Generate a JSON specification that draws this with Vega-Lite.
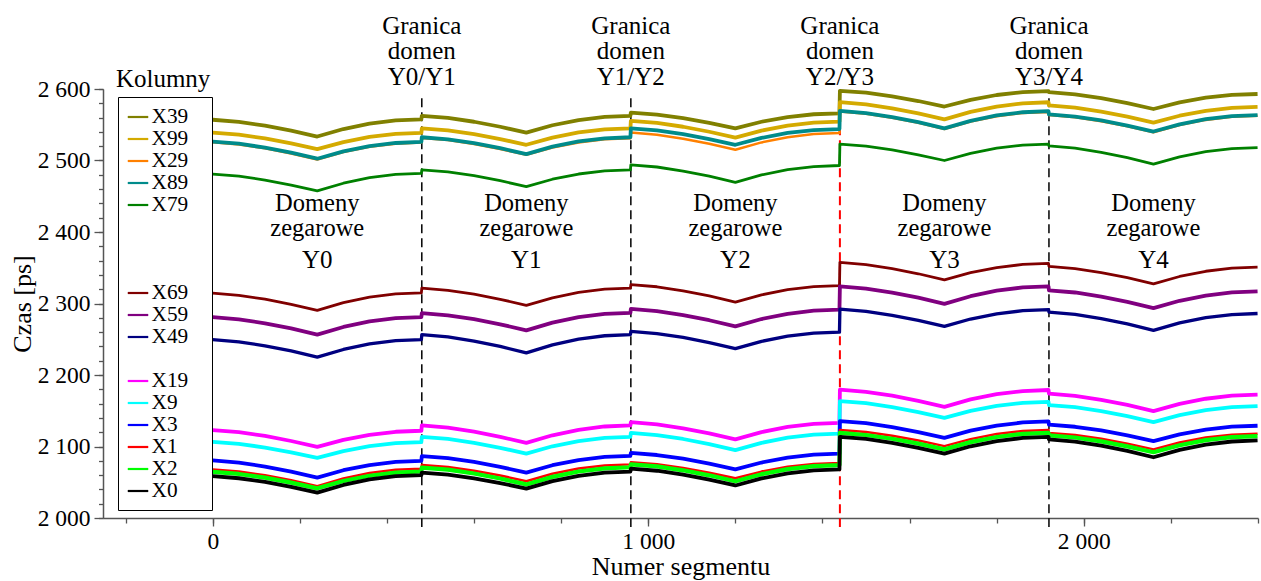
{
  "$schema": "https://vega.github.io/schema/vega-lite/v6.json",
  "width": 1155,
  "height": 429,
  "autosize": {"type": "none"},
  "padding": {"left": 103, "top": 89, "right": 3, "bottom": 63},
  "background": "white",
  "config": {
    "font": "Liberation Serif",
    "view": {"stroke": null},
    "axis": {
      "labelFont": "Liberation Serif", "labelFontSize": 23.5, "labelColor": "black",
      "titleFont": "Liberation Serif", "titleFontSize": 26, "titleFontWeight": "normal", "titleColor": "black",
      "domainColor": "#555555", "domainWidth": 1.5, "tickColor": "#555555", "tickWidth": 1.3,
      "grid": false, "labelFlush": false, "labelOverlap": false
    },
    "legend": {
      "strokeColor": "black", "fillColor": "white",
      "symbolType": "stroke", "symbolSize": 420, "symbolStrokeWidth": 2.2,
      "labelFont": "Liberation Serif", "labelFontSize": 21.3, "labelColor": "black", "labelOffset": 2,
      "rowPadding": 0, "padding": 8.5, "labelLimit": 300, "symbolOffset": 0
    },
    "text": {"font": "Liberation Serif", "color": "black"}
  },
  "resolve": {"axis": {"x": "independent", "y": "independent"}},
  "datasets": {
    "curves": [
      {"seg":0,"X39":2557,"X99":2539,"X29":2525.5,"X89":2526.5,"X79":2481,"X69":2314.5,"X59":2281,"X49":2249.5,"X19":2123,"X9":2106.5,"X3":2080.5,"X1":2068,"X2":2064.5,"X0":2058.5},
      {"seg":60,"X39":2554.1,"X99":2536.1,"X29":2522.5,"X89":2523.5,"X79":2478.1,"X69":2311.5,"X59":2277.9,"X49":2246.4,"X19":2120.1,"X9":2103.7,"X3":2077.5,"X1":2065.1,"X2":2061.6,"X0":2055.6},
      {"seg":120,"X39":2548.7,"X99":2530.9,"X29":2517,"X89":2518,"X79":2472.7,"X69":2306,"X59":2272.3,"X49":2240.8,"X19":2114.7,"X9":2098.5,"X3":2072,"X1":2059.7,"X2":2056.4,"X0":2050.4},
      {"seg":180,"X39":2541.7,"X99":2524,"X29":2509.9,"X89":2510.9,"X79":2465.7,"X69":2298.9,"X59":2265.1,"X49":2233.6,"X19":2107.7,"X9":2091.9,"X3":2064.9,"X1":2052.7,"X2":2049.5,"X0":2043.5},
      {"seg":240,"X39":2533.5,"X99":2516,"X29":2501.5,"X89":2502.5,"X79":2457.5,"X69":2290.5,"X59":2256.5,"X49":2225,"X19":2099.5,"X9":2084,"X3":2056.5,"X1":2044.5,"X2":2041.5,"X0":2035.5},
      {"seg":300,"X39":2544,"X99":2525.8,"X29":2511.8,"X89":2512.8,"X79":2468.2,"X69":2301.2,"X59":2267.2,"X49":2235.7,"X19":2109.3,"X9":2093.6,"X3":2066.8,"X1":2055.2,"X2":2051.8,"X0":2046.2},
      {"seg":360,"X39":2551.5,"X99":2532.9,"X29":2519.1,"X89":2520.1,"X79":2475.9,"X69":2308.9,"X59":2274.9,"X49":2243.4,"X19":2116.4,"X9":2100.5,"X3":2074.1,"X1":2062.9,"X2":2059.1,"X0":2053.9},
      {"seg":420,"X39":2556,"X99":2537.1,"X29":2523.5,"X89":2524.5,"X79":2480.5,"X69":2313.5,"X59":2279.5,"X49":2248,"X19":2120.6,"X9":2104.6,"X3":2078.5,"X1":2067.5,"X2":2063.5,"X0":2058.5},
      {"seg":479,"X39":2557.5,"X99":2538.5,"X29":2525,"X89":2526,"X79":2482,"X69":2315,"X59":2281,"X49":2249.5,"X19":2122,"X9":2106,"X3":2080,"X1":2069,"X2":2065,"X0":2060},
      {"seg":480,"X39":2562.5,"X99":2545,"X29":2531.5,"X89":2532.5,"X79":2487,"X69":2321.5,"X59":2286.5,"X49":2256.5,"X19":2129.5,"X9":2113.5,"X3":2086.5,"X1":2074,"X2":2070.5,"X0":2063.5},
      {"seg":540,"X39":2559.6,"X99":2542.1,"X29":2528.6,"X89":2529.6,"X79":2484.1,"X69":2318.5,"X59":2283.5,"X49":2253.3,"X19":2126.4,"X9":2110.6,"X3":2083.6,"X1":2071.2,"X2":2067.6,"X0":2060.7},
      {"seg":600,"X39":2554.2,"X99":2536.9,"X29":2523.2,"X89":2524.2,"X79":2478.7,"X69":2313,"X59":2278,"X49":2247.5,"X19":2120.8,"X9":2105.2,"X3":2078.4,"X1":2066,"X2":2062.2,"X0":2055.5},
      {"seg":660,"X39":2547.2,"X99":2530,"X29":2516.2,"X89":2517.2,"X79":2471.7,"X69":2305.9,"X59":2270.9,"X49":2239.9,"X19":2113.6,"X9":2098.2,"X3":2071.5,"X1":2059.4,"X2":2055.2,"X0":2048.9},
      {"seg":720,"X39":2539,"X99":2522,"X29":2508,"X89":2509,"X79":2463.5,"X69":2297.5,"X59":2262.5,"X49":2231,"X19":2105,"X9":2090,"X3":2063.5,"X1":2051.5,"X2":2047,"X0":2041},
      {"seg":780,"X39":2549.3,"X99":2532.1,"X29":2518.1,"X89":2519.3,"X79":2473.8,"X69":2308,"X59":2273.2,"X49":2242.2,"X19":2115.7,"X9":2100.3,"X3":2073.8,"X1":2061.8,"X2":2057.5,"X0":2051.5},
      {"seg":840,"X39":2556.6,"X99":2539.3,"X29":2525.3,"X89":2526.6,"X79":2481.1,"X69":2315.5,"X59":2280.9,"X49":2250.1,"X19":2123.4,"X9":2107.6,"X3":2081.1,"X1":2069.1,"X2":2065,"X0":2059},
      {"seg":900,"X39":2561,"X99":2543.6,"X29":2529.6,"X89":2531,"X79":2485.5,"X69":2320,"X59":2285.5,"X49":2254.9,"X19":2128,"X9":2112,"X3":2085.5,"X1":2073.5,"X2":2069.5,"X0":2063.5},
      {"seg":959,"X39":2562.5,"X99":2545,"X29":2531,"X89":2532.5,"X79":2487,"X69":2321.5,"X59":2287,"X49":2256.5,"X19":2129.5,"X9":2113.5,"X3":2087,"X1":2075,"X2":2071,"X0":2065},
      {"seg":960,"X39":2567,"X99":2555.5,"X29":2539,"X89":2545,"X79":2494,"X69":2326.5,"X59":2292.5,"X49":2261,"X19":2134,"X9":2119,"X3":2091,"X1":2078,"X2":2075,"X0":2069},
      {"seg":1020,"X39":2564.3,"X99":2552.6,"X29":2536,"X89":2542.1,"X79":2490.9,"X69":2323.4,"X59":2289.4,"X49":2258,"X19":2131,"X9":2116,"X3":2088.1,"X1":2075.2,"X2":2072.1,"X0":2066.1},
      {"seg":1080,"X39":2559.2,"X99":2547.2,"X29":2530.5,"X89":2536.9,"X79":2485.3,"X69":2317.8,"X59":2283.8,"X49":2252.5,"X19":2125.5,"X9":2110.5,"X3":2082.9,"X1":2070,"X2":2066.7,"X0":2060.7},
      {"seg":1140,"X39":2552.7,"X99":2540.2,"X29":2523.4,"X89":2530,"X79":2478.1,"X69":2310.6,"X59":2276.6,"X49":2245.4,"X19":2118.4,"X9":2103.4,"X3":2076,"X1":2063.4,"X2":2059.7,"X0":2053.7},
      {"seg":1200,"X39":2545,"X99":2532,"X29":2515,"X89":2522,"X79":2469.5,"X69":2302,"X59":2268,"X49":2237,"X19":2110,"X9":2095,"X3":2068,"X1":2055.5,"X2":2051.5,"X0":2045.5},
      {"seg":1260,"X39":2554.2,"X99":2541.8,"X29":2525.3,"X89":2531.6,"X79":2479.8,"X69":2312.1,"X59":2278.3,"X49":2247.1,"X19":2120.1,"X9":2105.1,"X3":2077.6,"X1":2064.9,"X2":2061.3,"X0":2055.3},
      {"seg":1320,"X39":2560.8,"X99":2548.9,"X29":2532.6,"X89":2538.5,"X79":2487.1,"X69":2319.3,"X59":2285.6,"X49":2254.3,"X19":2127.3,"X9":2112.3,"X3":2084.5,"X1":2071.6,"X2":2068.4,"X0":2062.4},
      {"seg":1380,"X39":2564.7,"X99":2553.1,"X29":2537,"X89":2542.6,"X79":2491.5,"X69":2323.6,"X59":2290,"X49":2258.6,"X19":2131.6,"X9":2116.6,"X3":2088.6,"X1":2075.7,"X2":2072.6,"X0":2066.6},
      {"seg":1439,"X39":2566,"X99":2554.5,"X29":2538.5,"X89":2544,"X79":2493,"X69":2325,"X59":2291.5,"X49":2260,"X19":2133,"X9":2118,"X3":2090,"X1":2077,"X2":2074,"X0":2068},
      {"seg":1440,"X39":2597.5,"X99":2581.5,"X29":2568.5,"X89":2569.5,"X79":2523,"X69":2357.5,"X59":2324,"X49":2292,"X19":2179.5,"X9":2163.5,"X3":2135.5,"X1":2123,"X2":2119,"X0":2113.5},
      {"seg":1500,"X39":2594.8,"X99":2578.5,"X29":2565.4,"X89":2566.4,"X79":2520.1,"X69":2354.4,"X59":2320.9,"X49":2289,"X19":2176.5,"X9":2160.6,"X3":2132.6,"X1":2120.2,"X2":2116.1,"X0":2110.6},
      {"seg":1560,"X39":2589.7,"X99":2573,"X29":2559.8,"X89":2560.8,"X79":2514.9,"X69":2348.8,"X59":2315.3,"X49":2283.5,"X19":2171,"X9":2155.2,"X3":2127.2,"X1":2115,"X2":2110.9,"X0":2105.2},
      {"seg":1620,"X39":2583.2,"X99":2565.9,"X29":2552.6,"X89":2553.6,"X79":2508,"X69":2341.6,"X59":2308.1,"X49":2276.4,"X19":2163.9,"X9":2148.2,"X3":2120.2,"X1":2108.4,"X2":2104,"X0":2098.2},
      {"seg":1680,"X39":2575.5,"X99":2557.5,"X29":2544,"X89":2545,"X79":2500,"X69":2333,"X59":2299.5,"X49":2268,"X19":2155.5,"X9":2140,"X3":2112,"X1":2100.5,"X2":2096,"X0":2090},
      {"seg":1740,"X39":2584.9,"X99":2568,"X29":2554.5,"X89":2555.5,"X79":2510.1,"X69":2343.1,"X59":2310.2,"X49":2278.3,"X19":2165.8,"X9":2149.8,"X3":2122.1,"X1":2110.3,"X2":2106.1,"X0":2100.3},
      {"seg":1800,"X39":2591.6,"X99":2575.5,"X29":2562,"X89":2563,"X79":2517.3,"X69":2350.3,"X59":2317.9,"X49":2285.6,"X19":2173.1,"X9":2156.9,"X3":2129.3,"X1":2117.4,"X2":2113.3,"X0":2107.6},
      {"seg":1860,"X39":2595.7,"X99":2580,"X29":2566.5,"X89":2567.5,"X79":2521.6,"X69":2354.6,"X59":2322.5,"X49":2290,"X19":2177.5,"X9":2161.1,"X3":2133.6,"X1":2121.6,"X2":2117.6,"X0":2112},
      {"seg":1919,"X39":2597,"X99":2581.5,"X29":2568,"X89":2569,"X79":2523,"X69":2356,"X59":2324,"X49":2291.5,"X19":2179,"X9":2162.5,"X3":2135,"X1":2123,"X2":2119,"X0":2113.5},
      {"seg":1920,"X39":2595.5,"X99":2577,"X29":2563.5,"X89":2564.5,"X79":2520.5,"X69":2352,"X59":2318.5,"X49":2288,"X19":2174,"X9":2158,"X3":2130.5,"X1":2119,"X2":2115.5,"X0":2110},
      {"seg":1980,"X39":2592.6,"X99":2574,"X29":2560.5,"X89":2561.5,"X79":2517.3,"X69":2348.9,"X59":2315.4,"X49":2284.8,"X19":2170.9,"X9":2155,"X3":2127.6,"X1":2116.1,"X2":2112.6,"X0":2106.9},
      {"seg":2040,"X39":2587.2,"X99":2568.5,"X29":2555,"X89":2556,"X79":2511.5,"X69":2343.3,"X59":2309.7,"X49":2279,"X19":2165.3,"X9":2149.5,"X3":2122.4,"X1":2110.9,"X2":2107.2,"X0":2101.2},
      {"seg":2100,"X39":2580.2,"X99":2561.4,"X29":2547.9,"X89":2548.9,"X79":2503.9,"X69":2336.1,"X59":2302.3,"X49":2271.4,"X19":2158.1,"X9":2142.4,"X3":2115.5,"X1":2104,"X2":2100.2,"X0":2093.8},
      {"seg":2160,"X39":2572,"X99":2553,"X29":2539.5,"X89":2540.5,"X79":2495,"X69":2327.5,"X59":2293.5,"X49":2262.5,"X19":2149.5,"X9":2134,"X3":2107.5,"X1":2096,"X2":2092,"X0":2085},
      {"seg":2220,"X39":2581.2,"X99":2562.6,"X29":2549.6,"X89":2550.6,"X79":2505.1,"X69":2337.8,"X59":2303.8,"X49":2272.8,"X19":2159.6,"X9":2143.8,"X3":2116.9,"X1":2105.6,"X2":2101.8,"X0":2095.3},
      {"seg":2280,"X39":2587.8,"X99":2569.5,"X29":2556.8,"X89":2557.8,"X79":2512.3,"X69":2345.1,"X59":2311.1,"X49":2280.1,"X19":2166.8,"X9":2150.9,"X3":2123.6,"X1":2112.5,"X2":2108.9,"X0":2102.6},
      {"seg":2340,"X39":2591.7,"X99":2573.6,"X29":2561.1,"X89":2562.1,"X79":2516.6,"X69":2349.5,"X59":2315.5,"X49":2284.5,"X19":2171.1,"X9":2155.1,"X3":2127.7,"X1":2116.6,"X2":2113.1,"X0":2107},
      {"seg":2399,"X39":2593,"X99":2575,"X29":2562.5,"X89":2563.5,"X79":2518,"X69":2351,"X59":2317,"X49":2286,"X19":2172.5,"X9":2156.5,"X3":2129,"X1":2118,"X2":2114.5,"X0":2108.5}
    ]
  },
  "layer": [
    {
      "data": {"values": [{"seg": 480}, {"seg": 960}, {"seg": 1920}]},
      "mark": {"type": "rule", "strokeDash": [9, 5], "color": "black", "strokeWidth": 1.5},
      "encoding": {
        "x": {"field": "seg", "type": "quantitative",
              "axis": {"orient": "bottom", "values": [-200,0,200,400,600,800,1000,1200,1400,1600,1800,2000,2200,2400], "labels": false, "domain": false, "tickSize": 5, "title": null}},
        "y": {"datum": 2587, "type": "quantitative", "axis": null},
        "y2": {"datum": 1987.5}
      }
    },
    {
      "data": {"values": [{"seg": 1440}]},
      "mark": {"type": "rule", "strokeDash": [9, 5], "color": "#ff0000", "strokeWidth": 2},
      "encoding": {
        "x": {"field": "seg", "type": "quantitative", "axis": null},
        "y": {"datum": 2587, "type": "quantitative",
              "axis": {"orient": "left", "values": [2000,2020,2040,2060,2080,2100,2120,2140,2160,2180,2200,2220,2240,2260,2280,2300,2320,2340,2360,2380,2400,2420,2440,2460,2480,2500,2520,2540,2560,2580,2600], "labels": false, "domain": false, "tickSize": 4.5, "title": null}},
        "y2": {"datum": 1987.5}
      }
    },
    {
      "data": {"name": "curves"},
      "transform": [{"fold": ["X39","X99","X29","X89","X79","X69","X59","X49","X19","X9","X3","X1","X2","X0"], "as": ["col", "t"]}],
      "mark": {"type": "line", "strokeJoin": "round"},
      "encoding": {
        "x": {"field": "seg", "type": "quantitative",
              "scale": {"domain": [-252, 2400], "nice": false, "zero": false},
              "axis": {"orient": "bottom", "values": [0, 1000, 2000], "tickSize": 8, "labelPadding": 3, "title": "Numer segmentu", "titlePadding": 1,
                       "labelExpr": "replace(format(datum.value, ','), ',', ' ')"}},
        "y": {"field": "t", "type": "quantitative",
              "scale": {"domain": [2000, 2600], "nice": false, "zero": false},
              "axis": {"orient": "left", "values": [2000,2100,2200,2300,2400,2500,2600], "tickSize": 9, "labelPadding": 4, "title": "Czas [ps]", "titlePadding": 2,
                       "labelExpr": "replace(format(datum.value, ','), ',', ' ')"}},
        "color": {"field": "col", "type": "nominal",
                  "scale": {"domain": ["X39","X99","X29","X89","X79","_a","_b","_c","X69","X59","X49","_d","X19","X9","X3","X1","X2","X0"],
                            "range": ["#808000","#d4aa00","#ff8000","#008b8b","#008000","transparent","transparent","transparent","#800000","#800080","#000080","transparent","#ff00ff","#00ffff","#0000ff","#ff0000","#00ff00","#000000"]},
                  "legend": {"orient": "none", "legendX": 15, "legendY": 8, "title": null,
                             "labelExpr": "indexof(datum.label, '_') == 0 ? '\u2800' : datum.label + '\u2800'"}},
        "strokeWidth": {"field": "col", "type": "nominal",
                        "scale": {"type": "ordinal", "domain": ["X39","X99","X29","X89","X79","X69","X59","X49","X19","X9","X3","X1","X2","X0"],
                                  "range": [3.8,3.8,2.5,3.8,2.8,2.8,3.8,3.3,3.8,3.8,3.8,2.5,4.2,3.8]},
                        "legend": null}
      }
    },
    {
      "data": {"values": [
        {"seg": 480, "lab": "Granica\ndomen\nY0/Y1"},
        {"seg": 960, "lab": "Granica\ndomen\nY1/Y2"},
        {"seg": 1440, "lab": "Granica\ndomen\nY2/Y3"},
        {"seg": 1920, "lab": "Granica\ndomen\nY3/Y4"}
      ]},
      "mark": {"type": "text", "lineBreak": "\n", "fontSize": 25, "lineHeight": 25.5, "align": "center", "baseline": "alphabetic"},
      "encoding": {
        "x": {"field": "seg", "type": "quantitative", "axis": null},
        "y": {"datum": 2677, "type": "quantitative", "axis": null},
        "text": {"field": "lab"}
      }
    },
    {
      "data": {"values": [
        {"seg": 240, "l1": "Domeny\nzegarowe", "l2": "Y0"},
        {"seg": 720, "l1": "Domeny\nzegarowe", "l2": "Y1"},
        {"seg": 1200, "l1": "Domeny\nzegarowe", "l2": "Y2"},
        {"seg": 1680, "l1": "Domeny\nzegarowe", "l2": "Y3"},
        {"seg": 2160, "l1": "Domeny\nzegarowe", "l2": "Y4"}
      ]},
      "layer": [
        {
          "mark": {"type": "text", "lineBreak": "\n", "fontSize": 24.5, "lineHeight": 24.5, "align": "center", "baseline": "alphabetic"},
          "encoding": {
            "x": {"field": "seg", "type": "quantitative", "axis": null},
            "y": {"datum": 2428.7, "type": "quantitative", "axis": null},
            "text": {"field": "l1"}
          }
        },
        {
          "mark": {"type": "text", "fontSize": 25, "align": "center", "baseline": "alphabetic"},
          "encoding": {
            "x": {"field": "seg", "type": "quantitative", "axis": null},
            "y": {"datum": 2350, "type": "quantitative", "axis": null},
            "text": {"field": "l2"}
          }
        }
      ]
    },
    {
      "data": {"values": [{"seg": -114, "lab": "Kolumny"}]},
      "mark": {"type": "text", "fontSize": 25, "align": "center", "baseline": "alphabetic"},
      "encoding": {
        "x": {"field": "seg", "type": "quantitative", "axis": null},
        "y": {"datum": 2602.4, "type": "quantitative", "axis": null},
        "text": {"field": "lab"}
      }
    }
  ]
}
